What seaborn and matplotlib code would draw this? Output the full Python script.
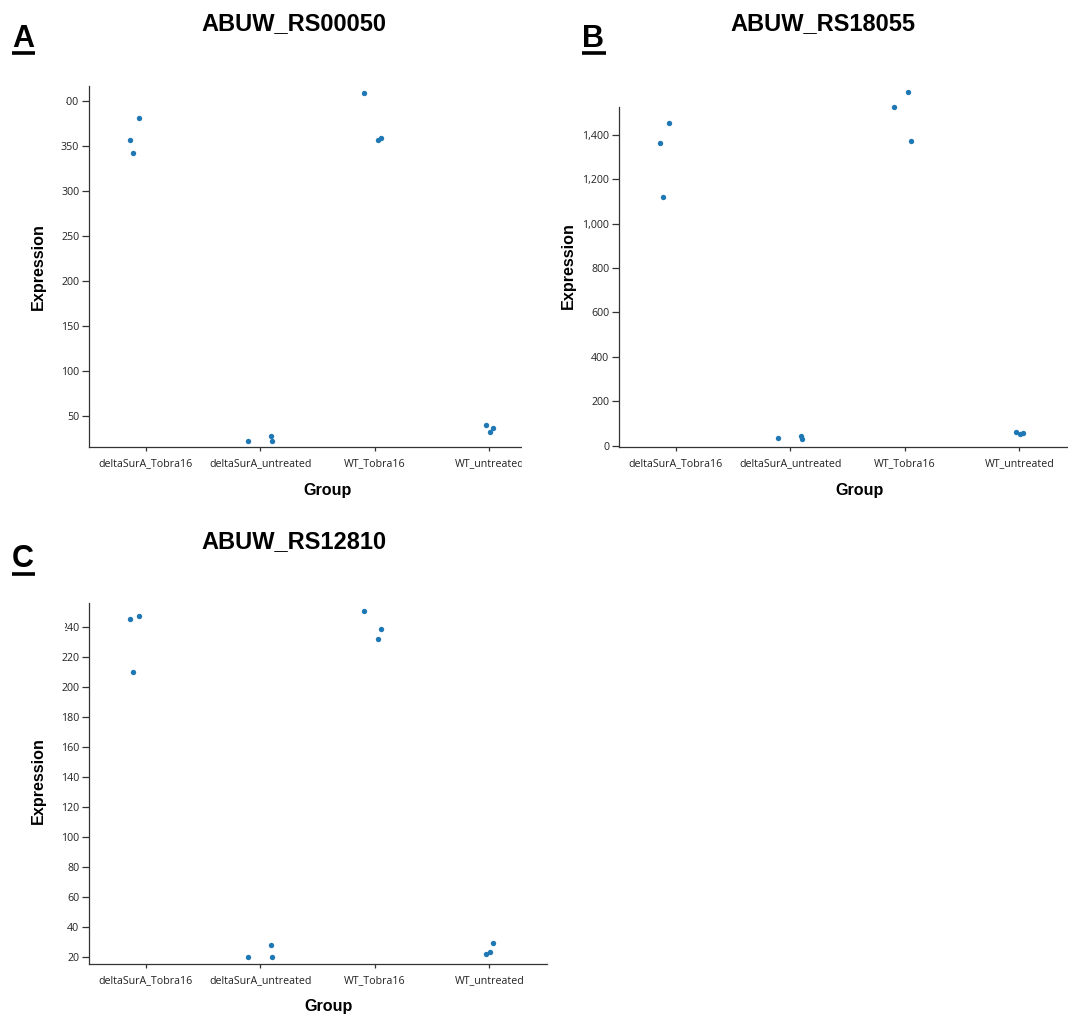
import numpy as np
import pandas as pd
import matplotlib
matplotlib.use("Agg")
import matplotlib.pyplot as plt
import seaborn as sns
from matplotlib.patches import Rectangle
from matplotlib.lines import Line2D
from matplotlib.ticker import FuncFormatter

# ---------------- data ----------------
groups = ["deltaSurA_Tobra16", "deltaSurA_untreated", "WT_Tobra16", "WT_untreated"]
genes = ["ABUW_RS00050", "ABUW_RS18055", "ABUW_RS12810"]
panel_letters = ["A", "B", "C"]

# replicate values per group (same order as groups)
rs00050_values = [[357, 342, 381], [23, 28, 23], [409, 356.5, 359], [40, 33, 37]]
rs18055_values = [[1364, 1122, 1455], [36, 44, 29], [1526, 1592, 1373], [62, 52, 55]]
rs12810_values = [[245.4, 210, 247.4], [20, 28, 20], [251, 232, 239], [22, 23, 29]]

rs00050_ticks = [50, 100, 150, 200, 250, 300, 350, 400]
rs18055_ticks = [0, 200, 400, 600, 800, 1000, 1200, 1400]
rs12810_ticks = [20, 40, 60, 80, 100, 120, 140, 160, 180, 200, 220, 240]

# ---------------- layout / style ----------------
# horizontal strip jitter (in category units) per group / replicate
jitter_offsets = [[-0.14, -0.11, -0.055], [-0.11, 0.09, 0.10],
                  [-0.09, 0.03, 0.055], [-0.03, 0.007, 0.037]]

W, H = 1068, 1017
def fx(x): return x / W
def fy(y): return 1 - y / H

sns.set_style("ticks")
plt.rcParams["font.family"] = ["Open Sans", "DejaVu Sans"]

fig = plt.figure(figsize=(W / 100, H / 100), dpi=100)
fig.patch.set_facecolor("white")

panels = [
    dict(values=rs00050_values, ticks=rs00050_ticks, ylim=(16.2, 417),
         box=(88.5, 546.5, 85.7, 446.7), title=(294, 30), letter=(12, 47, 35, 52.5),
         ylab=(38.7, 267), xlab=(328, 490), comma=False),
    dict(values=rs18055_values, ticks=rs18055_ticks, ylim=(-4.5, 1527),
         box=(618.5, 1076.5, 106.7, 446.7), title=(822.5, 30), letter=(582, 47, 605.5, 52.5),
         ylab=(568.5, 266), xlab=(859.5, 490), comma=True),
    dict(values=rs12810_values, ticks=rs12810_ticks, ylim=(15.1, 256),
         box=(88.5, 546.5, 603.3, 964.3), title=(294, 548), letter=(12, 567, 35, 573.5),
         ylab=(38.7, 781), xlab=(329, 1006), comma=False),
]

dot_color = "#1f77b4"
axis_color = "#333333"

for gene, letter, p in zip(genes, panel_letters, panels):
    l, r, t, b = p["box"]
    ax = fig.add_axes([fx(l), fy(b), (r - l) / W, (b - t) / H])
    rows = []
    for gi, g in enumerate(groups):
        for ri, v in enumerate(p["values"][gi]):
            rows.append({"Group": g, "pos": gi + jitter_offsets[gi][ri], "Expression": v})
    df = pd.DataFrame(rows)
    sns.scatterplot(data=df, x="pos", y="Expression", ax=ax, color=dot_color,
                    s=15, linewidth=0, legend=False, clip_on=False, zorder=5)
    ax.set_xlim(-0.5, 3.5)
    ax.set_xticks(range(len(groups)))
    ax.set_xticklabels(groups)
    ax.set_ylim(*p["ylim"])
    ax.set_yticks(p["ticks"])
    if p["comma"]:
        ax.yaxis.set_major_formatter(FuncFormatter(lambda v, pos: f"{int(v):,}"))
    ax.set_xlabel("")
    ax.set_ylabel("")
    sns.despine(ax=ax)
    for s in ["left", "bottom"]:
        ax.spines[s].set_color(axis_color)
        ax.spines[s].set_linewidth(0.9)
    ax.tick_params(axis="y", length=5, width=0.9, pad=1.7, labelsize=7.7,
                   color=axis_color, labelcolor="#222222")
    ax.tick_params(axis="x", length=3, width=0.9, pad=5, labelsize=7.7,
                   color=axis_color, labelcolor="#222222")
    ax.set_facecolor("white")

    # title
    fig.text(fx(p["title"][0]), fy(p["title"][1]), gene, ha="center", va="baseline",
             fontsize=17, fontweight="bold", family="Liberation Sans", color="black")
    # panel letter with underline
    lx, ly, ux, uy = p["letter"]
    fig.text(fx(lx), fy(ly), letter, ha="left", va="baseline", fontsize=22,
             fontweight="bold", family="Liberation Sans", color="black")
    fig.add_artist(Line2D([fx(lx), fx(ux)], [fy(uy), fy(uy)], transform=fig.transFigure,
                          color="black", lw=2.6, solid_capstyle="butt"))
    # axis labels
    fig.text(fx(p["ylab"][0]), fy(p["ylab"][1]), "Expression", rotation=90,
             ha="center", va="center", fontsize=11.6, fontweight="bold",
             family="Liberation Sans", color="black")
    fig.text(fx(p["xlab"][0]), fy(p["xlab"][1]), "Group", ha="center", va="center",
             fontsize=11.6, fontweight="bold", family="Liberation Sans", color="black")

# crop masks (the reference panels are cropped images)
def mask(x0, x1, y0, y1):
    fig.add_artist(Rectangle((fx(x0), fy(y1)), (x1 - x0) / W, (y1 - y0) / H,
                             transform=fig.transFigure, facecolor="white",
                             edgecolor="none", zorder=10))

mask(522, 558, 60, 505)    # right edge of panel A
mask(50, 66, 94, 109)      # clipped top tick label of panel A
mask(50, 64.5, 620, 635)   # clipped top tick label of panel C

fig.savefig("out.png", dpi=100, facecolor="white")
